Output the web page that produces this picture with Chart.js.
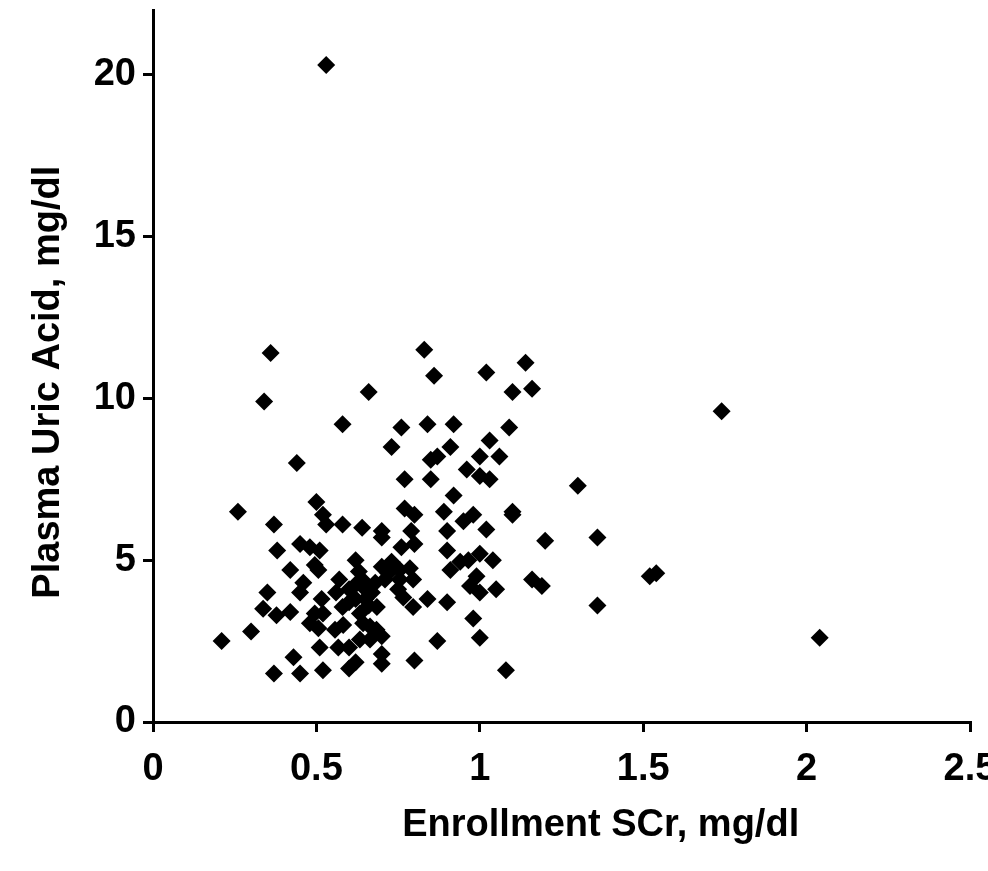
<!DOCTYPE html>
<html>
<head>
<meta charset="utf-8">
<script src="https://cdn.jsdelivr.net/npm/chart.js@4.4.1/dist/chart.umd.min.js"></script>
<style>
  html, body { margin: 0; padding: 0; background: #fff; overflow: hidden; }
</style>
</head>
<body>
<canvas id="myChart" width="1000" height="871"></canvas>
<script>
// Enrollment SCr (mg/dl) for each patient
const scrValues = [
  0.53, 0.36, 0.83, 0.86, 1.02, 1.14, 0.34, 0.66, 1.10, 1.16,
  1.74, 0.58, 0.76, 0.84, 0.92, 1.09, 1.03, 0.73, 0.91, 0.85,
  0.87, 1.00, 1.06, 0.44, 0.96, 1.00, 1.03, 0.77, 0.85, 0.92,
  1.30, 0.26, 0.50, 0.37, 0.52, 0.77, 0.80, 0.89, 0.95, 0.98,
  1.02, 0.90, 1.10, 1.10, 0.53, 0.58, 0.64, 0.70, 0.70, 0.79,
  0.76, 0.80, 1.20, 1.36, 0.90, 1.00, 0.94, 0.965, 1.04, 0.91,
  0.99, 0.97, 1.00, 1.05, 1.16, 1.19, 1.52, 1.54, 1.36, 0.84,
  0.90, 0.98, 0.87, 1.00, 1.08, 2.04,
  0.38, 0.45, 0.48, 0.51, 0.42, 0.495, 0.506, 0.46, 0.45, 0.35,
  0.337, 0.378, 0.42, 0.516, 0.495, 0.48, 0.506, 0.30, 0.21, 0.43,
  0.37, 0.45, 0.52, 0.51,
  0.57, 0.56, 0.62, 0.63, 0.60, 0.62, 0.65, 0.67, 0.70, 0.73,
  0.755, 0.786, 0.71, 0.755, 0.796, 0.60, 0.62, 0.65, 0.685, 0.52,
  0.633, 0.643, 0.664, 0.684, 0.70, 0.557, 0.582, 0.633, 0.664, 0.567,
  0.60, 0.70, 0.62, 0.60, 0.70, 0.80, 0.766, 0.796, 0.72, 0.68,
  0.64, 0.58, 0.66, 0.75
];
// Plasma uric acid (mg/dl), same order
const uricValues = [
  20.3, 11.4, 11.5, 10.7, 10.8, 11.1, 9.9, 10.2, 10.2, 10.3,
  9.6, 9.2, 9.1, 9.2, 9.2, 9.1, 8.7, 8.5, 8.5, 8.1,
  8.2, 8.2, 8.2, 8.0, 7.8, 7.6, 7.5, 7.5, 7.5, 7.0,
  7.3, 6.5, 6.8, 6.1, 6.4, 6.6, 6.4, 6.5, 6.2, 6.4,
  5.95, 5.9, 6.4, 6.5, 6.1, 6.1, 6.0, 5.9, 5.7, 5.9,
  5.4, 5.5, 5.6, 5.7, 5.3, 5.2, 4.95, 5.0, 5.0, 4.7,
  4.5, 4.2, 4.0, 4.1, 4.4, 4.2, 4.5, 4.6, 3.6, 3.8,
  3.7, 3.2, 2.5, 2.6, 1.6, 2.6,
  5.3, 5.5, 5.4, 5.3, 4.7, 4.85, 4.7, 4.3, 4.0, 4.0,
  3.5, 3.3, 3.4, 3.8, 3.35, 3.05, 2.9, 2.8, 2.5, 2.0,
  1.5, 1.5, 1.6, 2.3,
  4.4, 4.0, 5.0, 4.65, 4.1, 4.25, 4.1, 4.0, 4.8, 4.95,
  4.7, 4.75, 4.4, 4.4, 4.4, 3.7, 3.8, 3.8, 3.55, 3.35,
  3.35, 3.05, 2.95, 2.85, 2.65, 2.85, 3.0, 2.55, 2.55, 2.3,
  2.3, 2.1, 1.85, 1.65, 1.8, 1.9, 3.85, 3.55, 4.6, 4.3,
  4.4, 3.55, 3.6, 4.1
];

const xTitle = "Enrollment SCr, mg/dl";
const yTitle = "Plasma Uric Acid, mg/dl";
const fontFamily = '"Liberation Sans", Arial, sans-serif';

// Armo los puntos a partir de las dos listas
const points = scrValues.map((x, i) => ({ x: x, y: uricValues[i] }));

// Titulos de ejes dibujados a mano (no centrados en el area)
const axisTitles = {
  id: "axisTitles",
  afterDraw(chart) {
    const { ctx, chartArea, scales } = chart;
    ctx.save();
    ctx.fillStyle = "#000";
    ctx.font = "bold 38px " + fontFamily;
    ctx.textAlign = "center";
    ctx.textBaseline = "alphabetic";
    ctx.fillText(xTitle, scales.x.getPixelForValue(1.37), chartArea.bottom + 114);
    ctx.translate(59, scales.y.getPixelForValue(10.5));
    ctx.rotate(-Math.PI / 2);
    ctx.fillText(yTitle, 0, 0);
    ctx.restore();
  }
};

const tickFont = { family: fontFamily, size: 38, weight: "bold" };
// 1 y 2 sin decimales, como en la figura
const plainTick = (v) => String(v);

const config = {
  type: "scatter",
  data: {
    datasets: [{
      data: points,
      pointStyle: "rectRot",
      pointRadius: 9,
      pointHoverRadius: 9,
      borderWidth: 0,
      backgroundColor: "#000",
      borderColor: "#000"
    }]
  },
  options: {
    responsive: false,
    animation: false,
    layout: { padding: { top: 10, left: 0, right: 0, bottom: 0 } },
    plugins: { legend: { display: false }, tooltip: { enabled: false } },
    scales: {
      x: {
        type: "linear",
        min: 0,
        max: 2.5,
        ticks: { stepSize: 0.5, includeBounds: false, color: "#000", font: tickFont, padding: 15, maxRotation: 0, callback: plainTick },
        grid: { drawOnChartArea: false, color: "#000", lineWidth: 3, tickLength: 10 },
        border: { color: "#000", width: 3 },
        afterFit(s) {
          s.height = 149;
          s.paddingLeft = 0;
          s.paddingRight = 30;
        }
      },
      y: {
        type: "linear",
        min: 0,
        max: 22,
        ticks: { stepSize: 5, includeBounds: false, color: "#000", font: tickFont, padding: 7, callback: plainTick },
        grid: { drawOnChartArea: false, color: "#000", lineWidth: 3, tickLength: 10 },
        border: { color: "#000", width: 3 },
        afterFit(s) {
          s.width = 153;
          s.paddingTop = 0;
          s.paddingBottom = 0;
        }
      }
    }
  },
  plugins: [axisTitles]
};

new Chart(document.getElementById("myChart"), config);
</script>
</body>
</html>
